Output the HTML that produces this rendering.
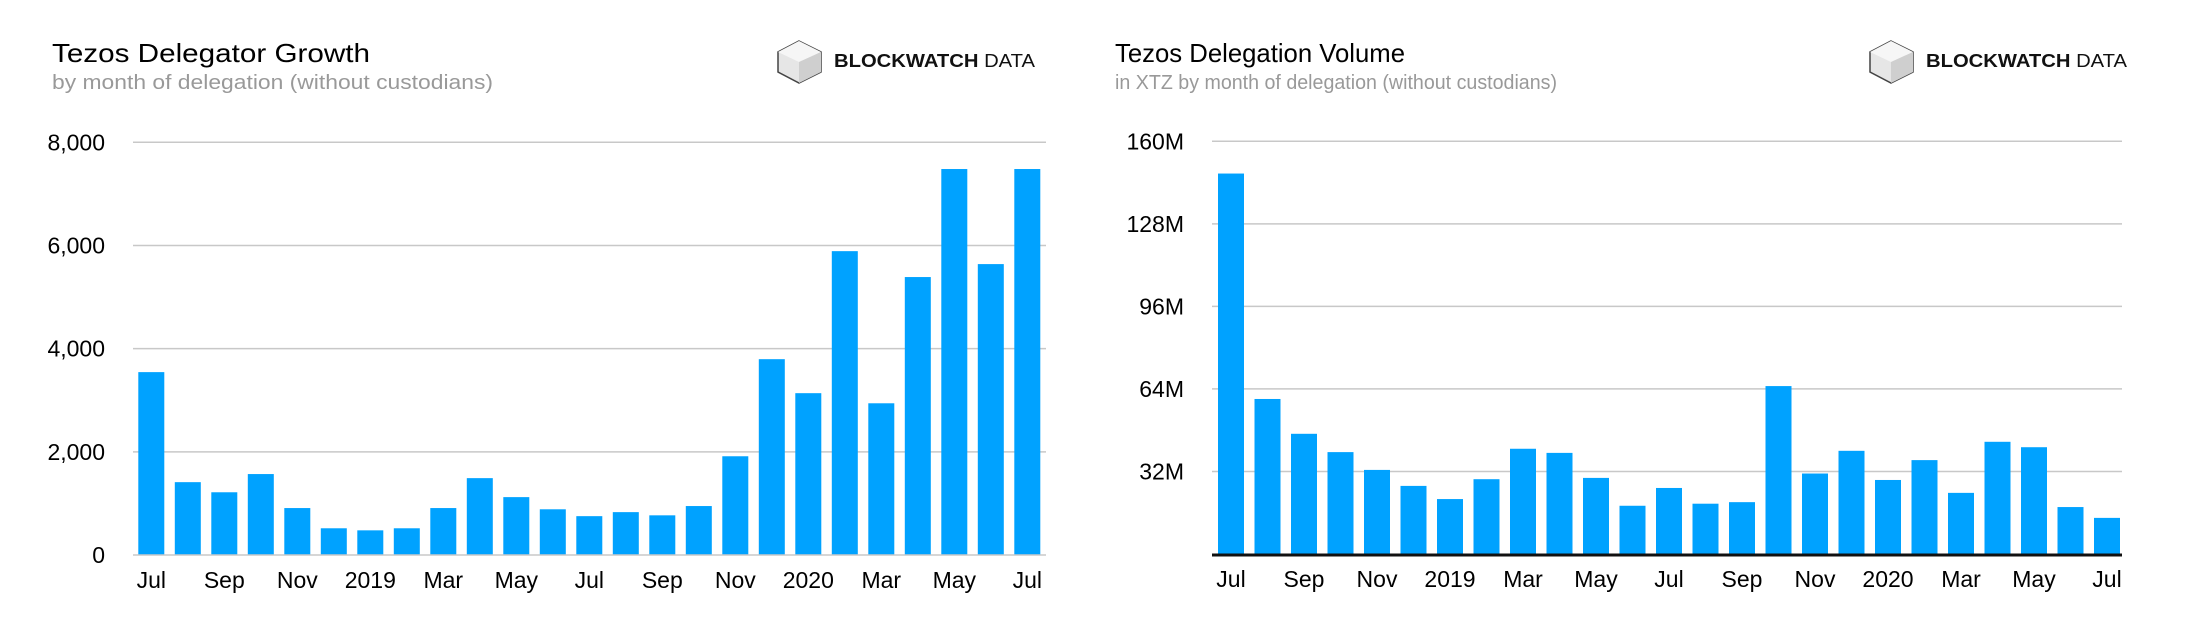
<!DOCTYPE html>
<html><head><meta charset="utf-8"><style>
html,body{margin:0;padding:0;background:#fff;}
svg{display:block;font-family:"Liberation Sans",Arial,sans-serif;}
</style></head><body>
<svg id="root" width="2186" height="634" viewBox="0 0 2186 634">
<g>
<text x="52" y="62" font-size="26" fill="#000" textLength="318" lengthAdjust="spacingAndGlyphs">Tezos Delegator Growth</text>
<text x="52" y="89" font-size="20" fill="#999" textLength="441" lengthAdjust="spacingAndGlyphs">by month of delegation (without custodians)</text>
</g>
<g transform="translate(777,40)">
<polygon points="22,1 44,12 44,32 22,43 1,32 1,12" fill="#e6e6e6" stroke="#444" stroke-width="1.5"/>
<polygon points="22,1 44,12 22,22 1,12" fill="#f6f6f6"/>
<polygon points="22,22 44,12 44,32 22,43" fill="#cfcfcf"/>
<text x="57" y="27" font-size="18" fill="#111" textLength="201" lengthAdjust="spacingAndGlyphs"><tspan font-weight="bold">BLOCKWATCH</tspan> DATA</text>
</g>
<g>
<text x="1115" y="62" font-size="26" fill="#000" textLength="290" lengthAdjust="spacingAndGlyphs">Tezos Delegation Volume</text>
<text x="1115" y="89" font-size="20" fill="#999" textLength="442" lengthAdjust="spacingAndGlyphs">in XTZ by month of delegation (without custodians)</text>
</g>
<g transform="translate(1869,40)">
<polygon points="22,1 44,12 44,32 22,43 1,32 1,12" fill="#e6e6e6" stroke="#444" stroke-width="1.5"/>
<polygon points="22,1 44,12 22,22 1,12" fill="#f6f6f6"/>
<polygon points="22,22 44,12 44,32 22,43" fill="#cfcfcf"/>
<text x="57" y="27" font-size="18" fill="#111" textLength="201" lengthAdjust="spacingAndGlyphs"><tspan font-weight="bold">BLOCKWATCH</tspan> DATA</text>
</g>
<g id="left"></g>
<g id="right"></g>
</svg>
<script>
const months = ["Jul","Aug","Sep","Oct","Nov","Dec","2019","Feb","Mar","Apr","May","Jun","Jul","Aug","Sep","Oct","Nov","Dec","2020","Feb","Mar","Apr","May","Jun","Jul"];
const growthValues = [3545,1412,1216,1569,910,518,478,518,910,1490,1122,886,753,831,769,949,1914,3796,3137,5890,2941,5388,7482,5639,7482];
const volumeValues = [147.5,60.1,46.6,39.5,32.6,26.4,21.3,29.0,40.8,39.2,29.5,18.7,25.6,19.5,20.1,65.1,31.2,40.0,28.7,36.4,23.7,43.5,41.4,18.2,14.0];
const growthTicks = [0,2000,4000,6000,8000];
const growthTickLabels = ["0","2,000","4,000","6,000","8,000"];
const volumeTicks = [32,64,96,128,160];
const volumeTickLabels = ["32M","64M","96M","128M","160M"];

const NS = "http://www.w3.org/2000/svg";
function mk(tag, attrs, parent){const e=document.createElementNS(NS,tag);for(const k in attrs)e.setAttribute(k,attrs[k]);parent.appendChild(e);return e;}

function draw(g, cfg){
  const yScale = v => cfg.y0 - (v/cfg.max)*(cfg.y0-cfg.yTop);
  const xScale = i => cfg.x0 + i*cfg.pitch;
  cfg.ticks.forEach((t,i)=>{
    const y = yScale(t);
    const ln = mk("line",{x1:cfg.gx1,x2:cfg.gx2,y1:y,y2:y,stroke:"#c8c8c8","stroke-width":1.5},g);
    
    
    const tx = mk("text",{x:cfg.labelX,y:y+8,"font-size":23,"text-anchor":"end",fill:"#000"},g);
    tx.textContent = cfg.tickLabels[i];
    
    
  });
  cfg.values.forEach((v,i)=>{
    const y = yScale(v);
    const r = mk("rect",{x:xScale(i),y:y,width:cfg.bw,height:cfg.y0-y,fill:"#00a2ff"},g);
    
    
    if(i%2===0){
      const t = mk("text",{x:xScale(i)+cfg.bw/2,y:cfg.y0+33,"font-size":23,"text-anchor":"middle",fill:"#000"},g);
      t.textContent = months[i];
      
      
    }
  });
  const base = mk("line",{x1:cfg.gx1,x2:cfg.gx2,y1:cfg.y0+cfg.bOff,y2:cfg.y0+cfg.bOff,stroke:cfg.baseColor,"stroke-width":cfg.baseW},g);
  
  
}
draw(document.getElementById("left"),{values:growthValues,ticks:growthTicks.slice(1),tickLabels:growthTickLabels.slice(1),max:8000,y0:555,yTop:142.3,x0:138.3,pitch:36.5,bw:26,gx1:133,gx2:1046,labelX:105,baseColor:"#c8c8c8",baseW:1.5,bOff:0});
// zero label on left
(function(){const g=document.getElementById("left");const t=mk("text",{x:105,y:563,"font-size":23,"text-anchor":"end",fill:"#000"},g);t.textContent=growthTickLabels[0];

})();
draw(document.getElementById("right"),{values:volumeValues,ticks:volumeTicks,tickLabels:volumeTickLabels,max:160,y0:554,yTop:141.3,x0:1218,pitch:36.5,bw:26,gx1:1212,gx2:2122,labelX:1184,baseColor:"#111",baseW:3,bOff:1});
</script>
</body></html>
